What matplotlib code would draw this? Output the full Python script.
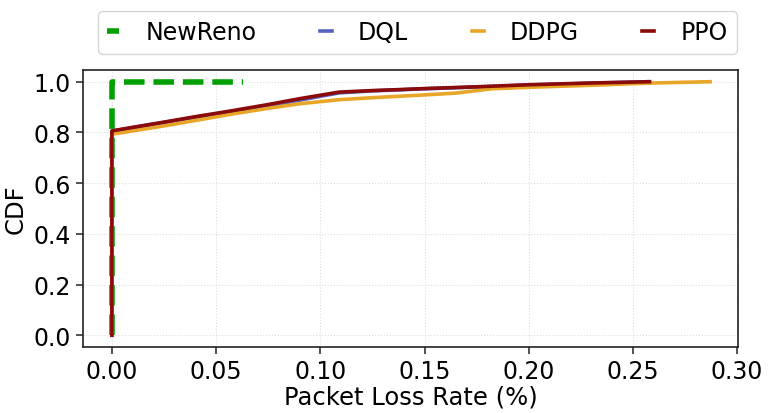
import numpy as np
import matplotlib
matplotlib.use('Agg')
import matplotlib.pyplot as plt

# CDF points (x = packet loss rate in %, y = CDF)
newreno_x = [0.0, 0.0, 0.0, 0.0627]
newreno_y = [0.0, 0.995, 1.0, 1.0]

ppo_x = [0.0, 0.0, 0.01, 0.026, 0.04, 0.058, 0.075, 0.09, 0.109, 0.125, 0.138, 0.15, 0.175, 0.20, 0.23, 0.258]
ppo_y = [0.0, 0.806, 0.820, 0.842, 0.862, 0.886, 0.910, 0.933, 0.959, 0.965, 0.969, 0.973, 0.980, 0.988, 0.995, 1.0]

dql_x = [0.0, 0.0, 0.01, 0.026, 0.04, 0.058, 0.075, 0.09, 0.109, 0.125, 0.138, 0.15, 0.175, 0.20, 0.23, 0.257]
dql_y = [0.0, 0.805, 0.819, 0.841, 0.860, 0.883, 0.905, 0.927, 0.956, 0.964, 0.968, 0.972, 0.979, 0.987, 0.994, 1.0]

ddpg_x = [0.0, 0.0, 0.01, 0.026, 0.04, 0.058, 0.075, 0.09, 0.109, 0.125, 0.148, 0.165, 0.182, 0.20, 0.23, 0.26, 0.287]
ddpg_y = [0.0, 0.793, 0.806, 0.827, 0.847, 0.873, 0.895, 0.913, 0.929, 0.937, 0.947, 0.955, 0.972, 0.978, 0.986, 0.995, 1.0]

x_ticks = [0.00, 0.05, 0.10, 0.15, 0.20, 0.25, 0.30]
y_ticks = [0.0, 0.2, 0.4, 0.6, 0.8, 1.0]

plt.rcParams['font.family'] = 'DejaVu Sans'

fig = plt.figure(figsize=(7.73, 4.14), dpi=100)
ax = fig.add_axes([0.107, 0.159, 0.848, 0.670])

ax.plot(newreno_x, newreno_y, '--', color='#00a000', lw=4, label='NewReno')
ax.plot(dql_x, dql_y, '-', color='#5563c1', lw=2.6, label='DQL')
ax.plot(ddpg_x, ddpg_y, '-', color='#e8a628', lw=2.6, label='DDPG')
ax.plot(ppo_x, ppo_y, '-', color='#8b0a0a', lw=2.6, label='PPO')

ax.set_xlim(-0.014, 0.3005)
ax.set_ylim(-0.047, 1.047)
ax.set_xticks(x_ticks)
ax.set_yticks(y_ticks)
ax.set_xticklabels(['%.2f' % t for t in x_ticks])
ax.set_yticklabels(['%.1f' % t for t in y_ticks])
ax.tick_params(labelsize=17, length=5, width=1.2, color='#333333')
for s in ax.spines.values():
    s.set_color('#222222')
    s.set_linewidth(1.2)
ax.grid(True, ls=':', lw=0.8, color='#dddddd')
ax.set_xlabel('Packet Loss Rate (%)', fontsize=17.5, labelpad=1)
ax.set_ylabel('CDF', fontsize=17.5, labelpad=4)

fig.legend(loc='upper center', bbox_to_anchor=(0.54, 1.0), ncol=4, fontsize=17,
           handlelength=0.5, handletextpad=1.1, columnspacing=2.7,
           borderpad=0.4, frameon=True, fancybox=True)

fig.savefig('out.png', dpi=100)
